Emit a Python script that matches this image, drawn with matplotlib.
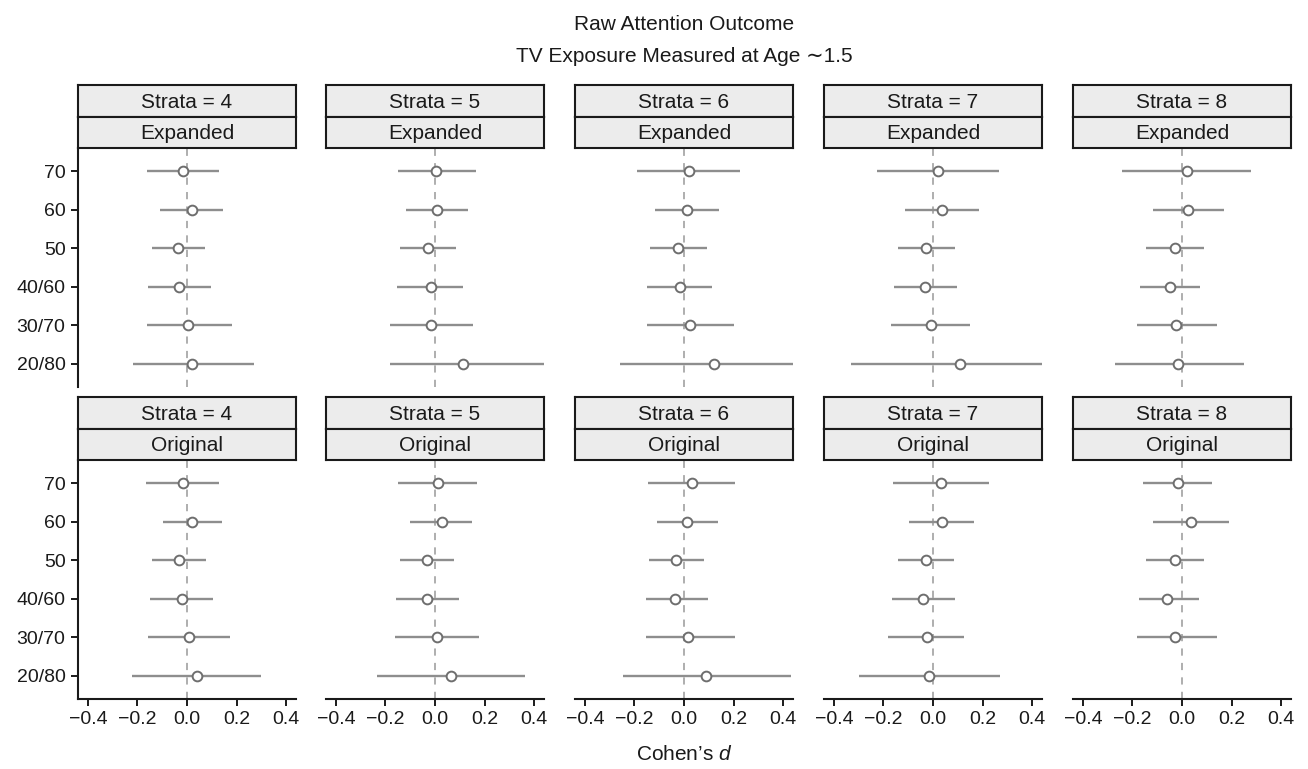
import matplotlib
matplotlib.use('Agg')
import matplotlib.pyplot as plt
from matplotlib import font_manager
import numpy as np

names = {f.name for f in font_manager.fontManager.ttflist}
narrow = 'Liberation Sans Narrow' in names
main_font = 'Liberation Sans Narrow' if narrow else 'Liberation Sans'
plt.rcParams['font.family'] = [main_font, 'DejaVu Sans']
plt.rcParams['mathtext.fontset'] = 'custom'
plt.rcParams['mathtext.it'] = main_font + ':italic'
plt.rcParams['mathtext.rm'] = main_font
fs_scale = 1.0 / 0.86 if narrow else 1.0

labels = ['70', '60', '50', '40/60', '30/70', '20/80']
strata = [4, 5, 6, 7, 8]
samples = ['Expanded', 'Original']
xticks = [-0.4, -0.2, 0.0, 0.2, 0.4]

# Expanded sample, one row per strata, values in label order
exp_d = [[-0.015, 0.020, -0.035, -0.031, 0.005, 0.020],
         [0.005, 0.007, -0.028, -0.018, -0.015, 0.115],
         [0.019, 0.011, -0.024, -0.016, 0.025, 0.120],
         [0.022, 0.037, -0.027, -0.031, -0.010, 0.110],
         [0.020, 0.026, -0.028, -0.047, -0.025, -0.015]]
exp_lo = [[-0.160, -0.107, -0.142, -0.157, -0.160, -0.220],
          [-0.150, -0.118, -0.141, -0.153, -0.180, -0.180],
          [-0.188, -0.119, -0.138, -0.148, -0.150, -0.260],
          [-0.225, -0.112, -0.141, -0.157, -0.170, -0.330],
          [-0.241, -0.119, -0.145, -0.168, -0.180, -0.270]]
exp_hi = [[0.130, 0.145, 0.072, 0.095, 0.180, 0.270],
          [0.164, 0.133, 0.084, 0.115, 0.155, 0.460],
          [0.225, 0.141, 0.091, 0.114, 0.200, 0.460],
          [0.268, 0.184, 0.088, 0.098, 0.150, 0.460],
          [0.279, 0.170, 0.089, 0.074, 0.140, 0.250]]

# Original sample
orig_d = [[-0.016, 0.020, -0.033, -0.020, 0.010, 0.039],
          [0.012, 0.027, -0.034, -0.031, 0.010, 0.063],
          [0.033, 0.014, -0.033, -0.035, 0.015, 0.090],
          [0.034, 0.035, -0.028, -0.040, -0.025, -0.015],
          [-0.016, 0.037, -0.028, -0.060, -0.030, np.nan]]
orig_lo = [[-0.164, -0.098, -0.142, -0.148, -0.157, -0.221],
           [-0.148, -0.099, -0.141, -0.157, -0.163, -0.236],
           [-0.144, -0.111, -0.142, -0.155, -0.155, -0.245],
           [-0.160, -0.096, -0.140, -0.165, -0.180, -0.300],
           [-0.156, -0.119, -0.144, -0.175, -0.180, np.nan]]
orig_hi = [[0.130, 0.140, 0.076, 0.106, 0.173, 0.300],
           [0.171, 0.150, 0.076, 0.096, 0.178, 0.363],
           [0.206, 0.138, 0.080, 0.095, 0.205, 0.430],
           [0.228, 0.167, 0.084, 0.090, 0.125, 0.270],
           [0.122, 0.190, 0.088, 0.070, 0.140, np.nan]]

d_all = [exp_d, orig_d]
lo_all = [exp_lo, orig_lo]
hi_all = [exp_hi, orig_hi]

W, H = 1308, 769
fig = plt.figure(figsize=(W / 100, H / 100), dpi=100)

lefts = [78, 326, 575, 824, 1073]
pw = 218
panel_top = [148, 460]
ph = 239
strip_h = 31.5
txt = '#1a1a1a'


def box(px, py, w, h):
    return [px / W, 1 - (py + h) / H, w / W, h / H]


ypos = np.arange(len(labels))[::-1] + 1

for r in range(2):
    for c in range(5):
        ax = fig.add_axes(box(lefts[c], panel_top[r], pw, ph))
        d = np.array(d_all[r][c], dtype=float)
        lo = np.array(lo_all[r][c], dtype=float)
        hi = np.array(hi_all[r][c], dtype=float)
        ax.axvline(0, color='#a8a8a8', ls=(0, (4, 4)), lw=1.3, zorder=1)
        ax.hlines(ypos, lo, hi, color='#8e8e8e', lw=1.7, zorder=2)
        ax.plot(d, ypos, 'o', mfc='white', mec='#6e6e6e', ms=7, mew=1.4, zorder=3)
        ax.set_xlim(-0.44, 0.44)
        ax.set_ylim(0.4, 6.6)
        for s in ['top', 'right']:
            ax.spines[s].set_visible(False)
        ax.spines['left'].set_visible(c == 0)
        ax.spines['bottom'].set_visible(r == 1)
        for s in ['left', 'bottom']:
            ax.spines[s].set_linewidth(1.5)
            ax.spines[s].set_color('#1a1a1a')
        ax.set_xticks(xticks)
        ax.set_xticklabels([f'{t:.1f}'.replace('-', '\u2212') for t in xticks])
        ax.set_yticks(ypos)
        ax.set_yticklabels(labels)
        ax.tick_params(axis='both', direction='out', length=5, width=1.4,
                       color='#1a1a1a', labelsize=14 * fs_scale,
                       labelcolor=txt, pad=4)
        if r == 0:
            ax.tick_params(axis='x', bottom=False, labelbottom=False)
        if c != 0:
            ax.tick_params(axis='y', left=False, labelleft=False)

        # facet strips
        top_strip = panel_top[r] - 2 * strip_h
        for k, s_txt in enumerate([f'Strata = {strata[c]}', samples[r]]):
            sax = fig.add_axes(box(lefts[c], top_strip + k * strip_h, pw, strip_h))
            sax.set_facecolor('#ececec')
            sax.set_xticks([])
            sax.set_yticks([])
            for sp in sax.spines.values():
                sp.set_linewidth(1.5)
                sp.set_color('#1a1a1a')
            sax.text(0.5, 0.46, s_txt, ha='center', va='center',
                     fontsize=15 * fs_scale, color=txt,
                     transform=sax.transAxes)

cx = (lefts[0] + lefts[-1] + pw) / 2 / W
fig.text(cx, 1 - 25 / H, 'Raw Attention Outcome', ha='center', va='center',
         fontsize=15 * fs_scale, color=txt)
fig.text(cx, 1 - 57 / H, 'TV Exposure Measured at Age \u223c1.5', ha='center',
         va='center', fontsize=15 * fs_scale, color=txt)
fig.text(cx, 1 - 755 / H, 'Cohen\u2019s $d$', ha='center', va='center',
         fontsize=15 * fs_scale, color=txt)

fig.savefig('out.png', dpi=100)
